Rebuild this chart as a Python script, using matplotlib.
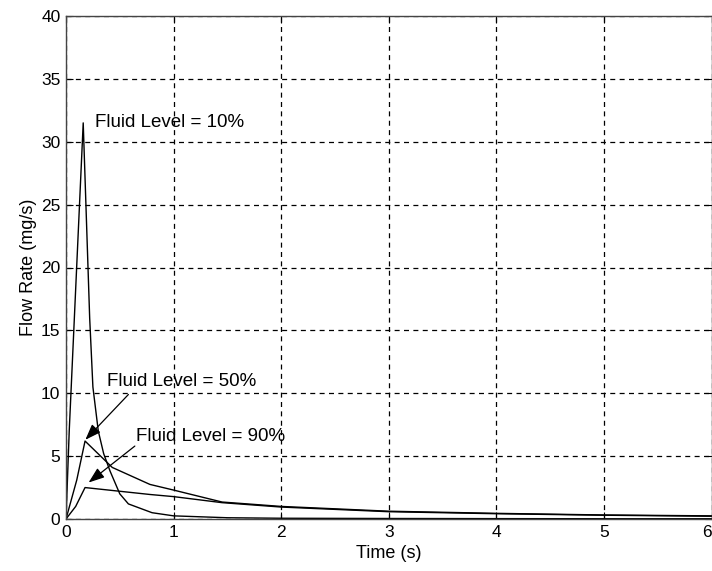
import matplotlib
matplotlib.use("Agg")
import matplotlib.pyplot as plt

plt.rcParams['font.family'] = ['Liberation Sans', 'DejaVu Sans']

# Data
t10 = [0, 0.03, 0.16, 0.22, 0.25, 0.30, 0.35, 0.41, 0.50, 0.58, 0.80, 1.0, 1.5, 2, 3, 4, 5, 6]
f10 = [0, 7.0, 31.5, 16.0, 10.5, 7.0, 5.2, 3.8, 2.0, 1.2, 0.5, 0.25, 0.1, 0.06, 0.04, 0.03, 0.02, 0.02]

t50 = [0, 0.10, 0.177, 0.43, 0.78, 1.0, 1.45, 2, 3, 4, 5, 6]
f50 = [0, 3.1, 6.2, 4.1, 2.75, 2.3, 1.35, 1.0, 0.62, 0.45, 0.32, 0.25]

t90 = [0, 0.09, 0.177, 0.78, 1.0, 1.45, 2, 3, 4, 5, 6]
f90 = [0, 1.0, 2.5, 1.95, 1.78, 1.3, 0.95, 0.58, 0.42, 0.3, 0.22]

labels = ["Fluid Level = 10%", "Fluid Level = 50%", "Fluid Level = 90%"]
xticks = [0, 1, 2, 3, 4, 5, 6]
yticks = [0, 5, 10, 15, 20, 25, 30, 35, 40]

fig = plt.figure(figsize=(7.12, 5.71), dpi=100)
ax = fig.add_axes([66 / 712, 1 - 519 / 571, 645.5 / 712, (519 - 16) / 571])

for t, f in [(t10, f10), (t50, f50), (t90, f90)]:
    ax.plot(t, f, color='black', lw=1.0)

ax.set_xlim(0, 6)
ax.set_ylim(0, 40)
ax.set_xticks(xticks)
ax.set_yticks(yticks)
ax.grid(True, color='black', linestyle=(0, (4, 3.5)), lw=0.9)
ax.tick_params(direction='in', length=5, top=True, right=True, labelsize=12.5, pad=4)
for s in ax.spines.values():
    s.set_color('#444444')
    s.set_linewidth(1.0)
# keep the last x tick label inside the figure edge
xlabs = ax.get_xticklabels()
xlabs[-1].set_horizontalalignment('right')
xlabs[-1].set_x(6)

ax.set_xlabel("Time (s)", fontsize=13, labelpad=4)
ax.set_ylabel("Flow Rate (mg/s)", fontsize=13, labelpad=3)

ax.text(0.27, 31.5, labels[0], fontsize=13.5, va='center', ha='left')
ax.text(0.38, 10.9, labels[1], fontsize=13.5, va='center', ha='left')
ax.text(0.65, 6.6, labels[2], fontsize=13.5, va='center', ha='left')

arrow = dict(arrowstyle='-|>,head_length=0.6,head_width=0.22', color='black', lw=0.9,
             mutation_scale=16, shrinkA=0, shrinkB=0)
ax.annotate("", xy=(0.18, 6.3), xytext=(0.58, 9.9), arrowprops=arrow)
ax.annotate("", xy=(0.21, 2.9), xytext=(0.64, 5.8), arrowprops=arrow)

fig.savefig("out.png", dpi=100)
